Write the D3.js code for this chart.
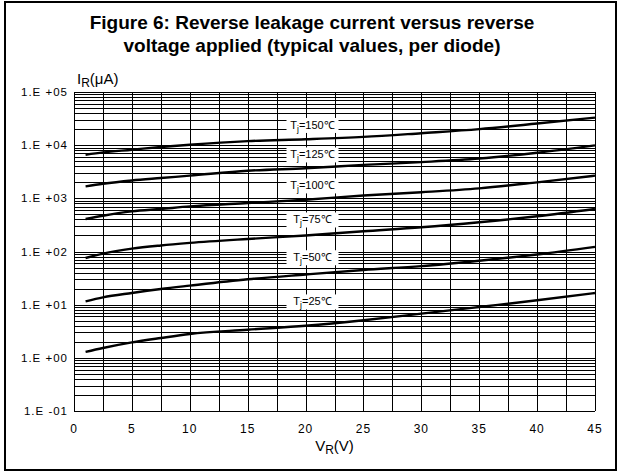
<!DOCTYPE html>
<html>
<head>
<meta charset="utf-8">
<script src="https://cdn.jsdelivr.net/npm/d3@7"></script>
<style>
body { margin: 0; background: #fff; }
text { font-family: "Liberation Sans", Arial, sans-serif; fill: #000; }
</style>
</head>
<body>
<div id="grafica"></div>
<script>
// datos
var voltage = [1, 2.5, 5, 7.5, 10, 15, 20, 25, 30, 35, 40, 45];
var temps = [150, 125, 100, 75, 50, 25];
var ir150 = [6600, 7300, 8200, 9250, 10200, 11900, 12900, 14300, 16800, 20000, 25500, 33000];
var ir125 = [1680, 1880, 2170, 2410, 2670, 3300, 3690, 4250, 4800, 5600, 7200, 9900];
var ir100 = [408, 471, 568, 631, 705, 817, 942, 1130, 1300, 1540, 2000, 2670];
var ir75 = [75.5, 91, 113, 130, 145, 172, 200, 240, 285, 355, 460, 631];
var ir50 = [11.5, 13.7, 16.6, 19.7, 22.8, 30, 37, 45, 53, 67, 88, 122];
var ir25 = [1.29, 1.53, 1.95, 2.36, 2.81, 3.38, 4.02, 5.1, 6.77, 9.04, 12.1, 16.6];
var series = [ir150, ir125, ir100, ir75, ir50, ir25];
// posicion de las etiquetas Tj (en unidades de la grafica)
var labelV = 20.6;
var labelI = [24000, 6700, 1750, 400, 78, 11.5];
var xTicks = [0, 5, 10, 15, 20, 25, 30, 35, 40, 45];
var yDecades = [1e-1, 1, 10, 100, 1000, 10000, 100000];

var W = 624, H = 475;
var svg = d3.select("#grafica").append("svg")
  .attr("width", W).attr("height", H);

// marco exterior
svg.append("rect")
  .attr("x", 5).attr("y", 2).attr("width", 611).attr("height", 468)
  .attr("fill", "none").attr("stroke", "#000").attr("stroke-width", 2);

// titulo
svg.append("text").attr("x", 312).attr("y", 29).attr("text-anchor", "middle")
  .style("font-size", "19px").style("font-weight", "bold")
  .text("Figure 6: Reverse leakage current versus reverse");
svg.append("text").attr("x", 312).attr("y", 52).attr("text-anchor", "middle")
  .style("font-size", "19px").style("font-weight", "bold")
  .text("voltage applied (typical values, per diode)");

var x = d3.scaleLinear().domain([0, 45]).range([74, 595]);
var y = d3.scaleLog().domain([0.1, 100000]).range([411, 92]);

var g = svg.append("g");

// rejilla vertical cada 2.5 V
g.selectAll(".vg").data(d3.range(0, 45.01, 2.5)).enter().append("line")
  .attr("x1", function(d) { return Math.round(x(d)) + 0.5; })
  .attr("x2", function(d) { return Math.round(x(d)) + 0.5; })
  .attr("y1", y(0.1)).attr("y2", y(100000))
  .attr("stroke", "#000").attr("stroke-width", 1);

// rejilla horizontal logaritmica
g.selectAll(".hg").data(y.ticks()).enter().append("line")
  .attr("x1", x(0)).attr("x2", x(45))
  .attr("y1", function(d) { return Math.round(y(d)) + 0.5; })
  .attr("y2", function(d) { return Math.round(y(d)) + 0.5; })
  .attr("stroke", "#000").attr("stroke-width", 1);

// curvas
var line = d3.line()
  .x(function(d, i) { return x(voltage[i]); })
  .y(function(d) { return y(d); })
  .curve(d3.curveMonotoneX);

g.selectAll(".curva").data(series).enter().append("path")
  .attr("d", line)
  .attr("fill", "none").attr("stroke", "#000").attr("stroke-width", 2.4);

// etiquetas Tj (caja blanca detras del texto)
var labels = svg.append("g");
temps.forEach(function(t, i) {
  var cx = x(labelV), cy = y(labelI[i]);
  var box = labels.append("rect")
    .attr("x", cx - 26).attr("y", cy - 7).attr("width", 52).attr("height", 15)
    .attr("fill", "#ffffff").attr("stroke", "none");
  var txt = labels.append("text")
    .attr("x", cx).attr("y", cy + 4)
    .attr("text-anchor", "middle")
    .style("font-size", "11px");
  txt.append("tspan").text("T");
  txt.append("tspan").attr("dy", 3).style("font-size", "8.5px").text("j");
  txt.append("tspan").attr("dy", -3).text("=" + t + "\u2103");
});

// ejes
var fmt = function(d) {
  var e = Math.round(Math.log10(d));
  var s = e < 0 ? "-" : "+";
  var a = Math.abs(e);
  return "1.E " + s + (a < 10 ? "0" : "") + a;
};
svg.selectAll(".ylab").data(yDecades).enter().append("text")
  .attr("x", 68).attr("y", function(d) { return y(d) + 4; })
  .attr("text-anchor", "end").style("font-size", "11.5px").style("letter-spacing", "1px")
  .text(fmt);

svg.selectAll(".xlab").data(xTicks).enter().append("text")
  .attr("x", function(d) { return x(d); }).attr("y", 433)
  .attr("text-anchor", "middle").style("font-size", "12px").style("letter-spacing", "1px")
  .text(function(d) { return d; });

// titulos de ejes
var yt = svg.append("text").attr("x", 77).attr("y", 84).style("font-size", "15px");
yt.append("tspan").text("I");
yt.append("tspan").attr("dy", 3).style("font-size", "12px").text("R");
yt.append("tspan").attr("dy", -3).text("(\u03bcA)");

var xt = svg.append("text").attr("x", x(22.5)).attr("y", 451)
  .attr("text-anchor", "middle").style("font-size", "15px");
xt.append("tspan").text("V");
xt.append("tspan").attr("dy", 3).style("font-size", "12px").text("R");
xt.append("tspan").attr("dy", -3).text("(V)");
</script>
</body>
</html>
